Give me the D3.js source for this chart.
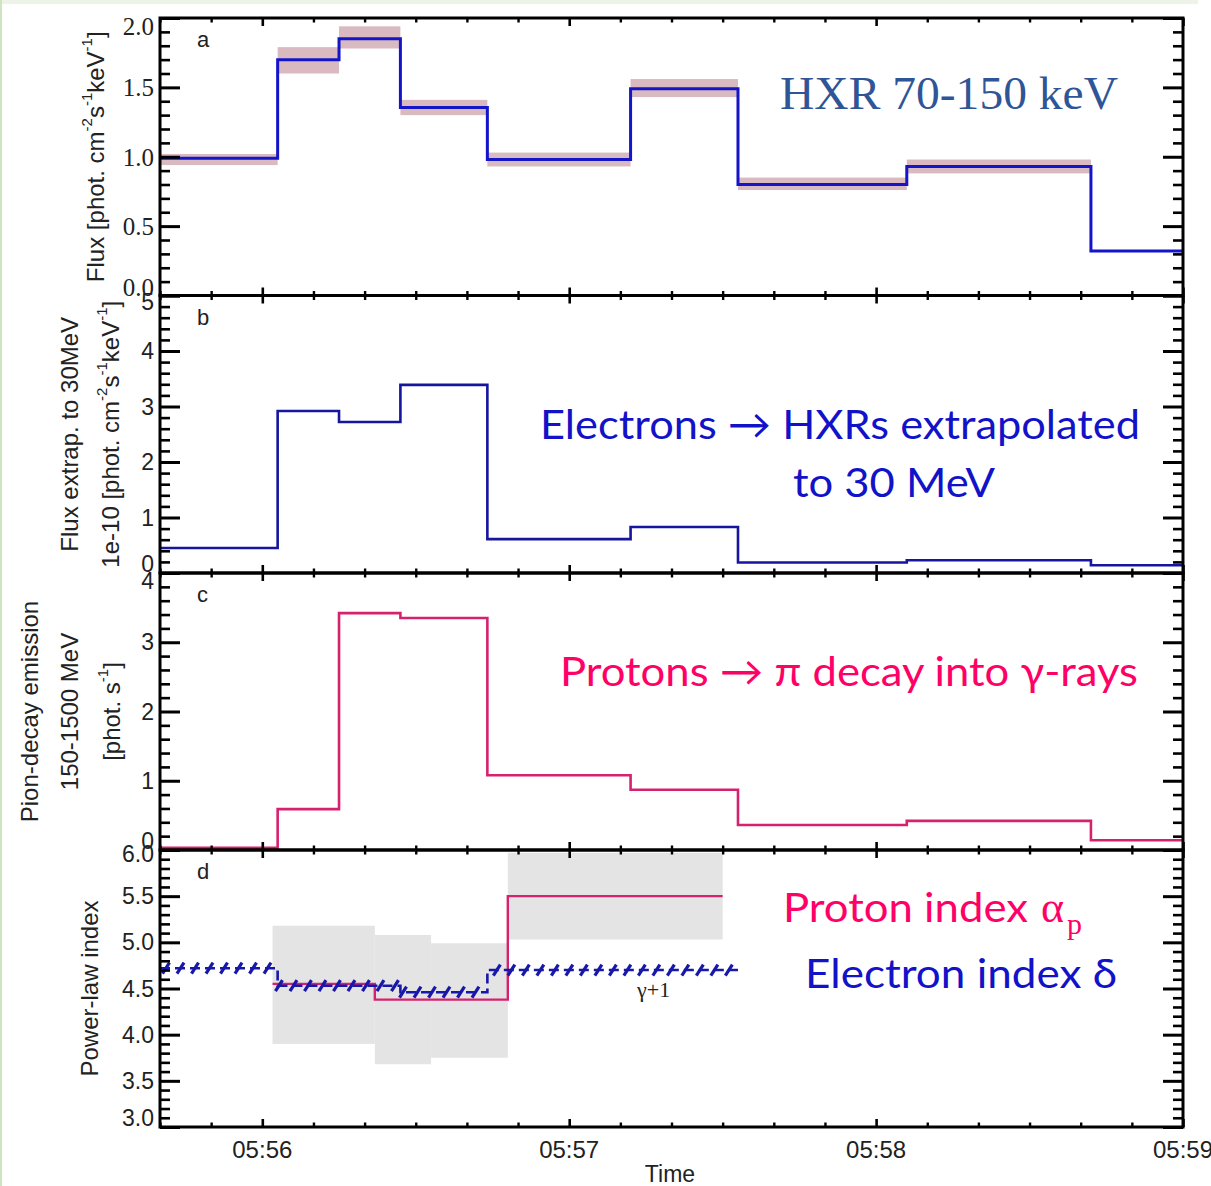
<!DOCTYPE html>
<html>
<head>
<meta charset="utf-8">
<script src="https://cdn.jsdelivr.net/npm/d3@7"></script>
<style>
  html, body { margin: 0; padding: 0; background: #ffffff; }
  svg { display: block; }
</style>
</head>
<body>
<script>
// ---------------- DATA ----------------
// Time bin edges (UT) shared by panels a, b, c
const binEdges = ["05:55:40","05:56:03","05:56:15","05:56:27","05:56:44","05:57:12","05:57:33","05:58:06","05:58:42","05:59:00"];
// Panel a: HXR 70-150 keV flux and its uncertainty band
const hxrFlux = [0.99, 1.70, 1.85, 1.355, 0.98, 1.49, 0.80, 0.93, 0.32];
const hxrLow  = [0.94, 1.60, 1.78, 1.30, 0.93, 1.43, 0.76, 0.88, 0.32];
const hxrHigh = [1.02, 1.79, 1.94, 1.41, 1.03, 1.56, 0.85, 0.98, 0.32];
// Panel b: flux extrapolated to 30 MeV (x1e-10)
const extrapFlux = [0.45, 2.92, 2.72, 3.39, 0.61, 0.83, 0.19, 0.23, 0.14];
// Panel c: pion-decay emission 150-1500 MeV
const pionFlux = [0.03, 0.59, 3.42, 3.35, 1.08, 0.87, 0.36, 0.42, 0.14];
// Panel d: proton index with uncertainty boxes
const protonEdges = ["05:56:02","05:56:22","05:56:33","05:56:48","05:57:30"];
const protonIndex = [4.55, 4.38, 4.38, 5.50];
const protonLow   = [3.90, 3.68, 3.75, 5.03];
const protonHigh  = [5.18, 5.08, 4.99, 5.97];
// Panel d: electron index (gamma+1)
const electronEdges = ["05:55:40","05:56:03","05:56:27","05:56:44","05:57:33"];
const electronIndex = [4.72, 4.53, 4.46, 4.70];
// Axis domain and titles
const xDomain = ["05:55:40","05:59:00"];
const yTitles = [
  ["Flux [phot. cm^-2s^-1keV^-1]"],
  ["Flux extrap. to 30MeV", "1e-10 [phot. cm^-2s^-1keV^-1]"],
  ["Pion-decay emission", "150-1500 MeV", "[phot. s^-1]"],
  ["Power-law index"]
];
const panelLetters = ["a","b","c","d"];

// ---------------- LAYOUT ----------------
const W = 1211, H = 1186;
const xL = 160, xR = 1183;
const parseT = d3.utcParse("%H:%M:%S");
const svg = d3.select("body").append("svg").attr("width", W).attr("height", H);

svg.append("rect").attr("x",0).attr("y",0).attr("width",W).attr("height",H).attr("fill","#fff");
svg.append("rect").attr("x",0).attr("y",0).attr("width",1198).attr("height",4).attr("fill","#edf3e7");
svg.append("rect").attr("x",0).attr("y",0).attr("width",2).attr("height",H).attr("fill","#cfe4c1");

const x = d3.scaleUtc().domain(xDomain.map(parseT)).range([xL, xR]);

const SANS = "'Liberation Sans', Arial, Helvetica, sans-serif";
const SERIF = "'Liberation Serif', 'Times New Roman', serif";
const CAL = "Lato, 'Noto Sans', 'DejaVu Sans', sans-serif";

const panels = [
  {top:18,    bottom:295.5, domain:[0,2], major:0.5, minor:0.1, fmt:d3.format(".1f"), font:SERIF, fs:25, offT:8, offB:8,  titleX:[95]},
  {top:295.5, bottom:573,   domain:[0,5], major:1,   minor:0.2, fmt:d3.format("d"),   font:SANS,  fs:23, offT:6, offB:9,  titleX:[69,110]},
  {top:573,   bottom:850,   domain:[0,4], major:1,   minor:0.2, fmt:d3.format("d"),   font:SANS,  fs:23, offT:8, offB:9,  titleX:[29,69,111]},
  {top:850,   bottom:1127,  domain:[3,6], major:0.5, minor:0.1, fmt:d3.format(".1f"), font:SANS,  fs:23, offT:4, offB:9,  titleX:[89]}
];

function stepVals(d0, d1, step) {
  const n = Math.round((d1 - d0) / step);
  return d3.range(n + 1).map(i => +(d0 + i * step).toFixed(4));
}

const majorX = d3.utcMinute.every(1).range(x.domain()[0], new Date(+x.domain()[1] + 1));
const minorX = d3.utcSecond.every(10).range(x.domain()[0], new Date(+x.domain()[1] + 1));

panels.forEach((p, i) => {
  p.y = d3.scaleLinear().domain(p.domain).range([p.bottom, p.top]);
  const g = svg.append("g").attr("class", "panel-" + panelLetters[i]);
  p.g = g;
  p.marks = g.append("g");
  p.axes = g.append("g");
});

function styleAxis(sel, w) {
  sel.select(".domain").remove();
  sel.selectAll("line").attr("stroke", "#000").attr("stroke-width", w);
  sel.selectAll("text").remove();
}

// ---------- Panel a ----------
{
  const p = panels[0], y = p.y;
  const edges = binEdges.map(parseT);
  p.marks.selectAll("rect.band").data(hxrFlux).join("rect").attr("class","band")
    .attr("x", (d,i) => x(edges[i])).attr("width", (d,i) => x(edges[i+1]) - x(edges[i]))
    .attr("y", (d,i) => y(hxrHigh[i])).attr("height", (d,i) => Math.max(0, y(hxrLow[i]) - y(hxrHigh[i])))
    .attr("fill", "#d9bac0");
  const pts = hxrFlux.map((v,i) => [edges[i], v]).concat([[edges[edges.length-1], hxrFlux[hxrFlux.length-1]]]);
  p.marks.append("path").datum(pts)
    .attr("d", d3.line().x(d => x(d[0])).y(d => y(d[1])).curve(d3.curveStepAfter))
    .attr("fill","none").attr("stroke","#1414c8").attr("stroke-width",3);
}
// ---------- Panel b ----------
{
  const p = panels[1], y = p.y;
  const edges = binEdges.map(parseT);
  const pts = extrapFlux.map((v,i) => [edges[i], v]).concat([[edges[edges.length-1], extrapFlux[extrapFlux.length-1]]]);
  p.marks.append("path").datum(pts)
    .attr("d", d3.line().x(d => x(d[0])).y(d => y(d[1])).curve(d3.curveStepAfter))
    .attr("fill","none").attr("stroke","#15159e").attr("stroke-width",2.6);
}
// ---------- Panel c ----------
{
  const p = panels[2], y = p.y;
  const edges = binEdges.map(parseT);
  const pts = pionFlux.map((v,i) => [edges[i], v]).concat([[edges[edges.length-1], pionFlux[pionFlux.length-1]]]);
  p.marks.append("path").datum(pts)
    .attr("d", d3.line().x(d => x(d[0])).y(d => y(d[1])).curve(d3.curveStepAfter))
    .attr("fill","none").attr("stroke","#d6216f").attr("stroke-width",2.6);
}
// ---------- Panel d ----------
{
  const p = panels[3], y = p.y;
  const pe = protonEdges.map(parseT);
  p.marks.selectAll("rect.box").data(protonIndex).join("rect").attr("class","box")
    .attr("x", (d,i) => x(pe[i])).attr("width", (d,i) => x(pe[i+1]) - x(pe[i]))
    .attr("y", (d,i) => y(protonHigh[i])).attr("height", (d,i) => y(protonLow[i]) - y(protonHigh[i]))
    .attr("fill", "#e4e4e4");
  const ppts = protonIndex.map((v,i) => [pe[i], v]).concat([[pe[pe.length-1], protonIndex[protonIndex.length-1]]]);
  p.marks.append("path").datum(ppts)
    .attr("d", d3.line().x(d => x(d[0])).y(d => y(d[1])).curve(d3.curveStepAfter))
    .attr("fill","none").attr("stroke","#d6216f").attr("stroke-width",2.4);

  const ee = electronEdges.map(parseT);
  const epts = electronIndex.map((v,i) => [ee[i], v]).concat([[ee[ee.length-1], electronIndex[electronIndex.length-1]]]);
  const ePath = p.marks.append("path").datum(epts)
    .attr("d", d3.line().x(d => x(d[0])).y(d => y(d[1])).curve(d3.curveStepAfter))
    .attr("fill","none").attr("stroke","#1818a8").attr("stroke-width",2.6)
    .attr("stroke-dasharray","10 5");
  const node = ePath.node();
  const L = node.getTotalLength();
  const hatch = [];
  for (let s = 6; s < L - 2; s += 14.5) {
    const a = node.getPointAtLength(s), b = node.getPointAtLength(Math.min(L, s + 1));
    if (Math.abs(b.y - a.y) < 0.3) hatch.push(a);
  }
  p.marks.selectAll("line.hatch").data(hatch).join("line").attr("class","hatch")
    .attr("x1", d => d.x - 3.5).attr("y1", d => d.y + 5.5)
    .attr("x2", d => d.x + 3.5).attr("y2", d => d.y - 5.5)
    .attr("stroke","#1818a8").attr("stroke-width",3.2);

  p.marks.append("text").attr("x", 637).attr("y", 997)
    .attr("font-family", SERIF).attr("font-size", 22).attr("fill","#222").text("\u03b3+1");
}

// ---------- Axes, frames, labels ----------
panels.forEach((p, i) => {
  const y = p.y, g = p.axes;
  const maj = stepVals(p.domain[0], p.domain[1], p.major);
  const min = stepVals(p.domain[0], p.domain[1], p.minor).filter(v => !maj.some(m => Math.abs(m - v) < 1e-6));
  g.append("g").attr("transform", `translate(${xL},0)`).call(d3.axisLeft(y).tickValues(maj).tickSize(-20)).call(styleAxis, 3);
  g.append("g").attr("transform", `translate(${xL},0)`).call(d3.axisLeft(y).tickValues(min).tickSize(-10)).call(styleAxis, 2.6);
  g.append("g").attr("transform", `translate(${xR},0)`).call(d3.axisRight(y).tickValues(maj).tickSize(-20)).call(styleAxis, 3);
  g.append("g").attr("transform", `translate(${xR},0)`).call(d3.axisRight(y).tickValues(min).tickSize(-10)).call(styleAxis, 2.6);
  const minX = minorX.filter(t => !majorX.some(m => +m === +t));
  g.append("g").attr("transform", `translate(0,${p.top})`).call(d3.axisTop(x).tickValues(majorX).tickSize(-8)).call(styleAxis, 2.6);
  g.append("g").attr("transform", `translate(0,${p.top})`).call(d3.axisTop(x).tickValues(minX).tickSize(-4.5)).call(styleAxis, 2.4);
  g.append("g").attr("transform", `translate(0,${p.bottom})`).call(d3.axisBottom(x).tickValues(majorX).tickSize(-8)).call(styleAxis, 2.6);
  g.append("g").attr("transform", `translate(0,${p.bottom})`).call(d3.axisBottom(x).tickValues(minX).tickSize(-4.5)).call(styleAxis, 2.4);
  g.append("rect").attr("x", xL).attr("y", p.top).attr("width", xR - xL).attr("height", p.bottom - p.top)
    .attr("fill","none").attr("stroke","#000").attr("stroke-width",3);
  g.selectAll("text.ylab").data(maj).join("text").attr("class","ylab")
    .attr("x", 154)
    .attr("y", v => Math.min(Math.max(y(v), p.top + p.offT), p.bottom - p.offB))
    .attr("dy", "0.35em").attr("text-anchor","end")
    .attr("font-family", p.font).attr("font-size", p.fs).attr("fill","#222")
    .text(v => p.fmt(v));
  g.append("text").attr("x", 197).attr("y", p.top + 29)
    .attr("font-family", SANS).attr("font-size", 22).attr("fill","#222").text(panelLetters[i]);
  const cy = (p.top + p.bottom) / 2;
  yTitles[i].forEach((t, k) => {
    const txt = g.append("text")
      .attr("transform", `translate(${p.titleX[k]},${cy}) rotate(-90)`)
      .attr("text-anchor","middle").attr("dominant-baseline","central")
      .attr("font-family", SANS).attr("font-size", 24).attr("fill","#222");
    const parts = t.split(/(\^-\d)/).filter(s => s.length);
    let raised = false;
    parts.forEach(s => {
      if (s.startsWith("^")) {
        txt.append("tspan").attr("font-size", 15).attr("dy", raised ? 0 : -9).text(s.slice(1));
        raised = true;
      } else {
        const ts = txt.append("tspan").text(s);
        if (raised) { ts.attr("dy", 9); raised = false; }
      }
    });
  });
});

// x tick labels and title (bottom only)
svg.append("g").selectAll("text").data(majorX).join("text")
  .attr("x", d => x(d)).attr("y", 1158).attr("text-anchor","middle")
  .attr("font-family", SANS).attr("font-size", 24).attr("fill","#222")
  .text(d3.utcFormat("%H:%M"));
svg.append("text").attr("x", 670).attr("y", 1182).attr("text-anchor","middle")
  .attr("font-family", SANS).attr("font-size", 23).attr("fill","#222").text("Time");

// ---------- Annotations ----------
svg.append("text").attr("x", 780).attr("y", 109).attr("font-family", SERIF).attr("font-size", 46)
  .attr("fill","#2f5597").attr("textLength", 338).attr("lengthAdjust","spacingAndGlyphs").text("HXR 70-150 keV");
svg.append("text").attr("x", 540).attr("y", 439).attr("font-family", CAL).attr("font-size", 41)
  .attr("fill","#1212c8").attr("textLength", 600).attr("lengthAdjust","spacingAndGlyphs").text("Electrons \u2192 HXRs extrapolated");
svg.append("text").attr("x", 793).attr("y", 497).attr("font-family", CAL).attr("font-size", 41)
  .attr("fill","#1212c8").attr("textLength", 202).attr("lengthAdjust","spacingAndGlyphs").text("to 30 MeV");
svg.append("text").attr("x", 560).attr("y", 686).attr("font-family", CAL).attr("font-size", 41)
  .attr("fill","#ff0066").attr("textLength", 578).attr("lengthAdjust","spacingAndGlyphs").text("Protons \u2192 \u03c0 decay into \u03b3-rays");
svg.append("text").attr("x", 783).attr("y", 922).attr("font-family", CAL).attr("font-size", 41)
  .attr("fill","#ff0066").attr("textLength", 245).attr("lengthAdjust","spacingAndGlyphs").text("Proton index");
svg.append("text").attr("x", 1041).attr("y", 922).attr("font-family", SERIF).attr("font-size", 44)
  .attr("fill","#ff0066").text("\u03b1");
svg.append("text").attr("x", 1067).attr("y", 934).attr("font-family", SERIF).attr("font-size", 30)
  .attr("fill","#ff0066").text("p");
svg.append("text").attr("x", 805).attr("y", 988).attr("font-family", CAL).attr("font-size", 41)
  .attr("fill","#1212c8").attr("textLength", 312).attr("lengthAdjust","spacingAndGlyphs").text("Electron index \u03b4");
</script>
</body>
</html>
